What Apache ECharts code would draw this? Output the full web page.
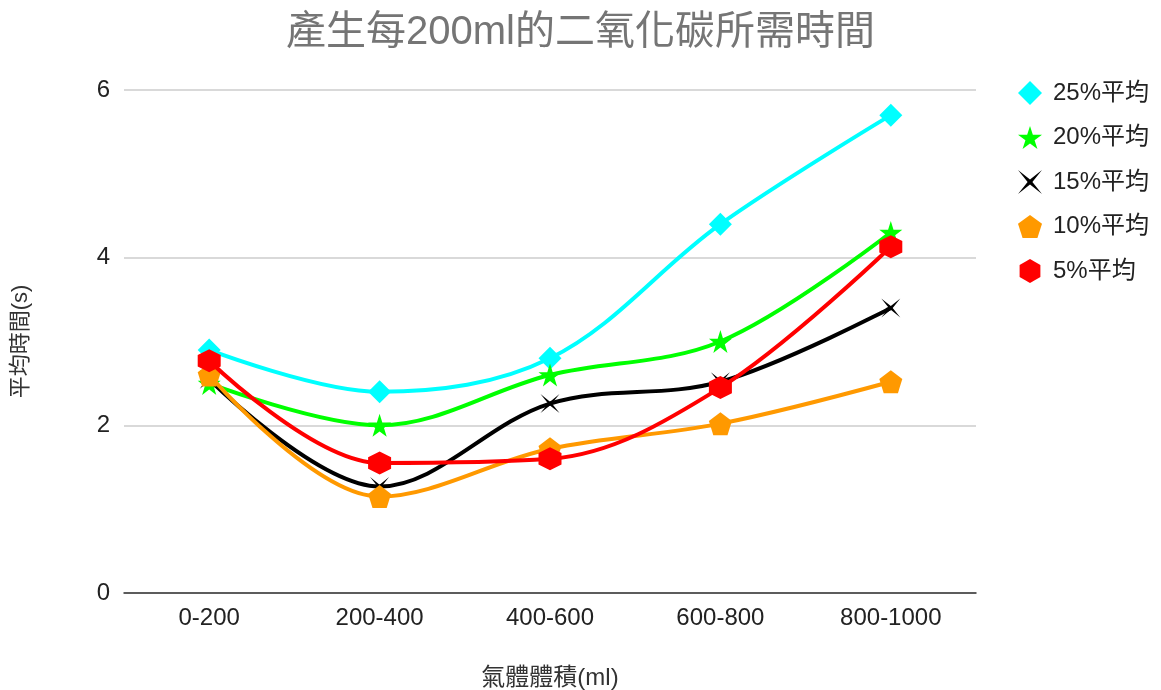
<!DOCTYPE html>
<html>
<head>
<meta charset="utf-8">
<title>產生每200ml的二氧化碳所需時間</title>
<script src="https://cdn.jsdelivr.net/npm/echarts@6/dist/echarts.min.js"></script>
<style>
  html, body { margin: 0; padding: 0; background: #ffffff; }
  #chart { width: 1161px; height: 690px; }
</style>
</head>
<body>
<div id="chart"></div>
<script>
// Volume ranges on the x axis
const categories = ['0-200', '200-400', '400-600', '600-800', '800-1000'];

// Average time (s) per concentration
const avg25 = [2.9, 2.4, 2.8, 4.4, 5.7];
const avg20 = [2.5, 2.0, 2.6, 3.0, 4.3];
const avg15 = [2.55, 1.27, 2.26, 2.52, 3.4];
const avg10 = [2.6, 1.15, 1.72, 2.02, 2.52];
const avg5  = [2.77, 1.55, 1.6, 2.45, 4.13];

const seriesNames = ['25%平均', '20%平均', '15%平均', '10%平均', '5%平均'];
const yTicks = [0, 2, 4, 6];

// Marker shapes
const STAR5 = 'path://M50 0 L61.23 34.55 L97.55 34.55 L68.17 55.9 L79.39 90.45 L50 69.1 L20.61 90.45 L31.83 55.9 L2.45 34.55 L38.77 34.55 Z';
const STAR4 = 'path://M0 0 L50 40 L100 0 L60 50 L100 100 L50 60 L0 100 L40 50 Z';
const PENTAGON = 'path://M50 0 L97.55 34.55 L79.39 90.45 L20.61 90.45 L2.45 34.55 Z';
const HEXAGON = 'path://M50 0 L93.3 25 L93.3 75 L50 100 L6.7 75 L6.7 25 Z';

const FONT = 'Arial, "Liberation Sans", "Noto Sans CJK TC", sans-serif';

const styles = [
  { color: '#00ffff', symbol: 'diamond', size: 23 },
  { color: '#00ff00', symbol: STAR5, size: 23 },
  { color: '#000000', symbol: STAR4, size: 19 },
  { color: '#ff9900', symbol: PENTAGON, size: 23 },
  { color: '#ff0000', symbol: HEXAGON, size: 23 }
];
const values = [avg25, avg20, avg15, avg10, avg5];

const chart = echarts.init(document.getElementById('chart'), null, { renderer: 'canvas' });

chart.setOption({
  animation: false,
  backgroundColor: '#ffffff',
  title: {
    text: '產生每200ml的二氧化碳所需時間',
    left: 'center',
    top: 8,
    textStyle: { fontFamily: FONT, fontSize: 40, fontWeight: 'normal', color: '#757575' }
  },
  legend: {
    orient: 'vertical',
    left: 1013,
    top: 76,
    itemWidth: 24,
    itemHeight: 24,
    itemGap: 20.5,
    textStyle: { fontFamily: FONT, fontSize: 24, color: '#222222', padding: [0, 0, 0, 6] },
    data: seriesNames.map((n, i) => ({ name: n, icon: styles[i].symbol }))
  },
  grid: { left: 124, right: 185, top: 90, bottom: 97, containLabel: false, outerBoundsMode: 'none' },
  xAxis: {
    type: 'category',
    data: categories,
    boundaryGap: true,
    name: '氣體體積(ml)',
    nameLocation: 'middle',
    nameGap: 73,
    nameTextStyle: { fontFamily: FONT, fontSize: 24, color: '#333333' },
    axisLine: { show: true, lineStyle: { color: '#333333', width: 1.5 } },
    axisTick: { show: false },
    axisLabel: { fontFamily: FONT, fontSize: 24, color: '#222222', margin: 13 }
  },
  yAxis: {
    type: 'value',
    min: 0,
    max: 6,
    interval: 2,
    name: '平均時間(s)',
    nameLocation: 'middle',
    nameGap: 92,
    nameTextStyle: { fontFamily: FONT, fontSize: 22, color: '#333333' },
    axisLine: { show: false },
    axisTick: { show: false },
    axisLabel: {
      fontFamily: FONT, fontSize: 24, color: '#222222', margin: 14,
      formatter: v => (yTicks.includes(v) ? String(v) : '')
    },
    splitLine: { lineStyle: { color: '#cccccc', width: 1.5 } }
  },
  series: seriesNames.map((n, i) => ({
    name: n,
    type: 'line',
    data: values[i],
    smooth: 0.35,
    symbol: styles[i].symbol,
    symbolSize: styles[i].size,
    showAllSymbol: true,
    itemStyle: { color: styles[i].color },
    lineStyle: { color: styles[i].color, width: 4 },
    z: 2 + i
  }))
});
</script>
</body>
</html>
